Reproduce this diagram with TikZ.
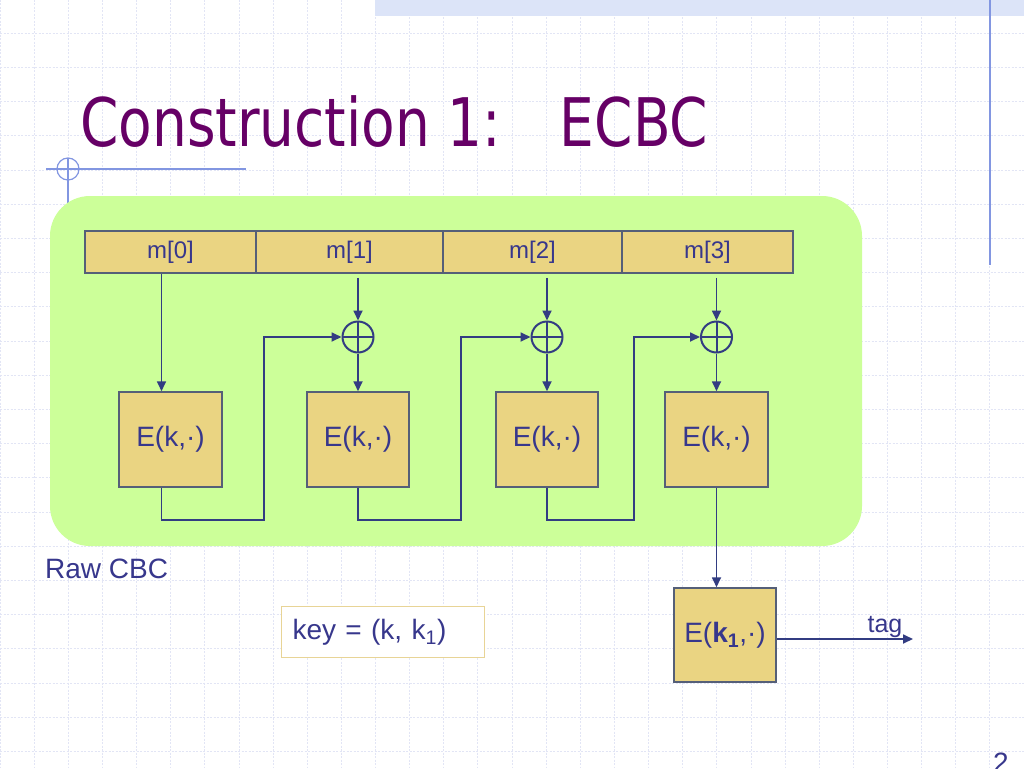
\documentclass[tikz,border=0pt]{standalone}
\usepackage{fontspec}
\setmainfont{Liberation Sans}
\newfontfamily\titlefont{DejaVu Sans}
\usetikzlibrary{arrows.meta,calc}
\definecolor{txt}{RGB}{55,55,140}
\definecolor{ln}{RGB}{50,60,130}
\definecolor{bd}{RGB}{85,95,120}
\definecolor{tanfill}{RGB}{234,212,130}
\definecolor{grn}{RGB}{204,255,153}
\definecolor{gridc}{RGB}{226,229,245}
\definecolor{band}{RGB}{220,228,248}
\definecolor{deco}{RGB}{130,150,225}
\definecolor{ttl}{RGB}{102,0,102}
\definecolor{keyb}{RGB}{232,212,150}
\begin{document}
\begin{tikzpicture}[x=1pt,y=-1pt,
  cell/.style={draw=bd,line width=1.5pt,fill=tanfill,inner sep=0pt,minimum height=42pt,text=txt,font=\fontsize{24}{28}\selectfont},
  ebox/.style={draw=bd,line width=1.5pt,fill=tanfill,inner sep=0pt,minimum width=102pt,minimum height=95pt,text=txt,font=\fontsize{28}{32}\selectfont},
  xor/.style={draw=ln,line width=2pt,circle,minimum size=31pt,inner sep=0pt,
    path picture={\draw[ln,line width=2pt] (path picture bounding box.north) -- (path picture bounding box.south) (path picture bounding box.west) -- (path picture bounding box.east);}},
  arr/.style={draw=ln,line width=1.7pt,-{Triangle[length=10pt,width=9pt]}},
  lbl/.style={text=txt,inner sep=0pt},
  gridline/.style={gridc,line width=0.8pt,dash pattern=on 2pt off 1.5pt},
  decoline/.style={deco,line width=1.2pt}]
\useasboundingbox (0,0) rectangle (1024,768);
\fill[white] (0,0) rectangle (1024,768);
% background grid
\foreach \i in {0,...,30} \draw[gridline] ({\i*34.133},0) -- ({\i*34.133},768);
\foreach \j in {1,...,22} \draw[gridline] (0,{\j*34.2-1}) -- (1024,{\j*34.2-1});
% top band and decorations
\fill[band] (375,0) rectangle (1024,16);
\draw[decoline] (990,0) -- (990,265);
\draw[decoline] (46,169) -- (246,169);
\draw[decoline] (68,169) circle[radius=11pt];
\draw[decoline] (68,158) -- (68,213);
% title
\node[anchor=base west,text=ttl,inner sep=0pt] (title) at (80,146)
  {\scalebox{0.82}[1]{\titlefont\fontsize{67}{80}\selectfont Construction 1:\hspace{72pt}ECBC}};
% green area
\fill[grn,rounded corners=40pt] (50,196) rectangle (862,546);
% message blocks
\node[cell,minimum width=171pt] (m0) at (170.5,252) {m[0]};
\node[cell,minimum width=187pt] (m1) at (349.5,252) {m[1]};
\node[cell,minimum width=179pt] (m2) at (532.5,252) {m[2]};
\node[cell,minimum width=171pt] (m3) at (707.5,252) {m[3]};
% xor
\node[xor] (x1) at (358,337) {};
\node[xor] (x2) at (547,337) {};
\node[xor] (x3) at (716.5,337) {};
% E boxes
\node[ebox,minimum width=103pt] (e0) at (170.5,439.5) {E(k,·)};
\node[ebox] (e1) at (358,439.5) {E(k,·)};
\node[ebox] (e2) at (547,439.5) {E(k,·)};
\node[ebox,minimum width=103pt] (e3) at (716.5,439.5) {E(k,·)};
% connectors
\draw[arr] ($(m0.south)+(-9,0)$) -- ($(e0.north)+(-9,0)$);
\draw[arr] ($(x1.north |- m1.south)+(0,4)$) -- (x1.north);
\draw[arr] ($(x2.north |- m2.south)+(0,4)$) -- (x2.north);
\draw[arr] ($(x3.north |- m3.south)+(0,4)$) -- (x3.north);
\draw[arr] (x1.south) -- (e1.north);
\draw[arr] (x2.south) -- (e2.north);
\draw[arr] (x3.south) -- (e3.north);
\draw[arr] ($(e0.south)+(-9,0)$) |- (264,520) |- (x1.west);
\draw[arr] (e1.south) |- (461,520) |- (x2.west);
\draw[arr] (e2.south) |- (634,520) |- (x3.west);
% labels and final stage
\node[lbl,anchor=base west,font=\fontsize{28}{32}\selectfont] (raw) at (45,578) {Raw CBC};
\node[ebox,minimum width=102pt,minimum height=94pt] (fin) at (725,635) {E(\textbf{k\textsubscript{1}},·)};
\draw[arr] (e3.south) -- (e3.south |- fin.north);
\coordinate (tagend) at (913,639);
\draw[arr] (fin.east |- tagend) -- (tagend);
\node[lbl,anchor=base,font=\fontsize{25}{30}\selectfont] (tag) at (885,632) {tag};
\node[draw=keyb,fill=white,line width=1.2pt,anchor=north west,minimum width=203pt,minimum height=51pt,
  text width=181pt,inner xsep=11pt,inner ysep=0pt,align=left,text=txt,font=\fontsize{28}{32}\selectfont]
  (key) at (281,606) {key = (k, k\textsubscript{1})};
\node[lbl,anchor=base west,font=\fontsize{28}{32}\selectfont] (pg) at (993,772) {2};
\end{tikzpicture}
\end{document}
